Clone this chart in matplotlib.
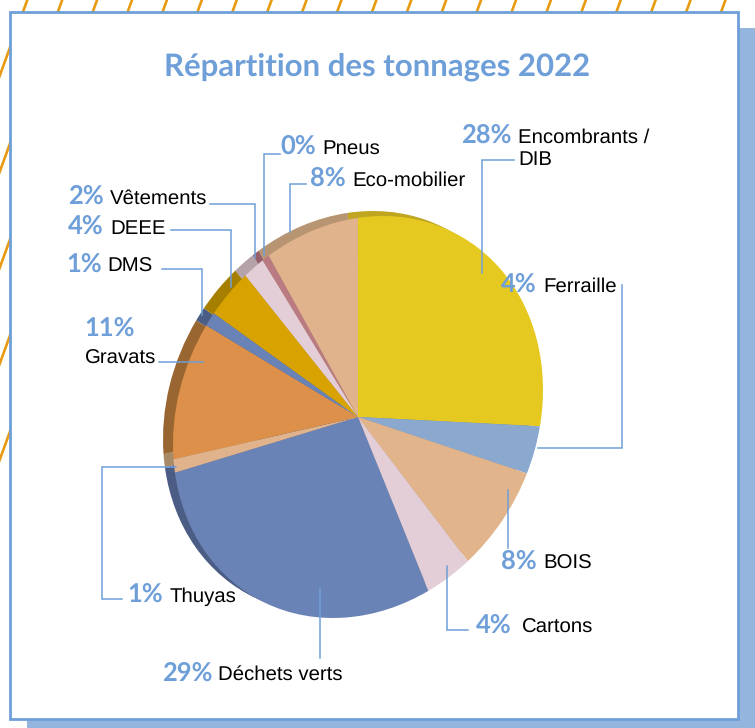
import matplotlib
matplotlib.use('Agg')
import matplotlib.pyplot as plt
from matplotlib.patches import Rectangle
from matplotlib.transforms import Affine2D

plt.rcParams['text.hinting'] = 'none'

#data
categories = ['Encombrants /\nDIB', 'Ferraille', 'BOIS', 'Cartons', 'Déchets verts', 'Thuyas',
              'Gravats', 'DMS', 'DEEE', 'Vêtements', 'Pneus', 'Eco-mobilier']
percent_labels = ['28%', '4%', '8%', '4%', '29%', '1%', '11%', '1%', '4%', '2%', '0%', '8%']
#the slices as drawn
slice_values = [27.9, 3.8, 8.2, 3.9, 28.9, 1.1, 10.9, 1.1, 3.8, 1.8, 0.6, 8.0]
top_colors = ['#e5c920', '#8ba9cf', '#e2b48c', '#e3cdd6', '#6a83b6', '#e1b38c',
              '#dd9049', '#6a83b6', '#d8a200', '#e3cdd6', '#b97a82', '#e1b38c']
rim_colors = ['#bfa520', '#6f88a8', '#b79472', '#b5a2a8', '#4b5d85', '#a98a67',
              '#996631', '#4b5d85', '#a67f00', '#b5a2a8', '#96606a', '#b79472']

BLUE = '#6f9fd8'
W, H = 755, 728
CX, CY = 358, 417

fig = plt.figure(figsize=(W / 100, H / 100), dpi=100)

#background, in pixels
bg = fig.add_axes([0, 0, 1, 1], zorder=0)
bg.set_xlim(0, W)
bg.set_ylim(H, 0)
bg.axis('off')
for c in range(75, 2001, 96):
    bg.plot([(c - 470) / 2.75, c / 2.75], [470, 0], color='#e89a10', lw=1.9)
bg.add_patch(Rectangle((27, 28), W - 27, H - 28, color='#94b6de', lw=0, zorder=3))
bg.add_patch(Rectangle((10, 11.5), 728, 707, fc='white', ec=BLUE, lw=2, zorder=4))

#pie, sheared to the tilted ellipse of the picture, rim is the same pie moved up and left
ax = fig.add_axes([0, 0, 1, 1], zorder=1)


def draw_pie(colors, px, py):
    wedges, _ = ax.pie(slice_values, colors=colors, startangle=97.8, counterclock=False,
                       wedgeprops=dict(lw=0))
    shear = Affine2D.from_values(183.3, 0, 25, 201, px, py)
    for w in wedges:
        w.set_transform(shear + ax.transData)


draw_pie(rim_colors, CX - 10, H - CY + 5)
draw_pie(top_colors, CX, H - CY)
ax.set_aspect('auto')
ax.set_xlim(0, W)
ax.set_ylim(0, H)
ax.axis('off')

#leader lines and text, in pixels
top = fig.add_axes([0, 0, 1, 1], zorder=2)
top.set_xlim(0, W)
top.set_ylim(H, 0)
top.axis('off')
top.patch.set_alpha(0)

leaders = [
    ([514, 482, 482], [160, 160, 273]),
    ([622, 622, 538], [285, 448, 448]),
    ([507.5, 507.5], [490, 548]),
    ([447, 447, 468], [566, 629.5, 629.5]),
    ([320, 320], [589, 658]),
    ([122, 102, 102, 176], [599, 599, 466.5, 466.5]),
    ([159, 203], [362, 362]),
    ([162, 202, 202], [269, 269, 315]),
    ([171, 231, 231], [229.5, 229.5, 287]),
    ([210, 255, 255], [204, 204, 258]),
    ([280, 264, 264], [154, 154, 255]),
    ([306, 290, 290], [184, 184, 232]),
]
for xs, ys in leaders:
    top.plot(xs, ys, color=BLUE, lw=1.1, solid_joinstyle='miter')

pct_pos = [(461, 143), (501, 292), (501, 569), (476, 633), (162, 681), (127, 602),
           (84, 336), (66, 272), (68, 234), (68, 204), (280, 154), (310, 186)]
name_pos = [(518, 165), (543, 292), (543, 569), (522, 633), (218, 680), (170, 602),
            (85, 364), (107, 272), (110, 234), (110, 204), (322, 154), (352, 186)]
for cat, pct, p, n in zip(categories, percent_labels, pct_pos, name_pos):
    top.text(p[0], p[1], pct, color=BLUE, fontsize=18.4, fontweight='bold', family='Lato', va='baseline')
    top.text(n[0], n[1], cat, color='black', fontsize=14.7, family='Liberation Sans', va='baseline',
             linespacing=1.25)

top.text(377, 75, 'Répartition des tonnages 2022', color=BLUE, fontsize=22.4, fontweight='bold',
         family='Lato', ha='center', va='baseline')

fig.savefig('out.png', dpi=100)
